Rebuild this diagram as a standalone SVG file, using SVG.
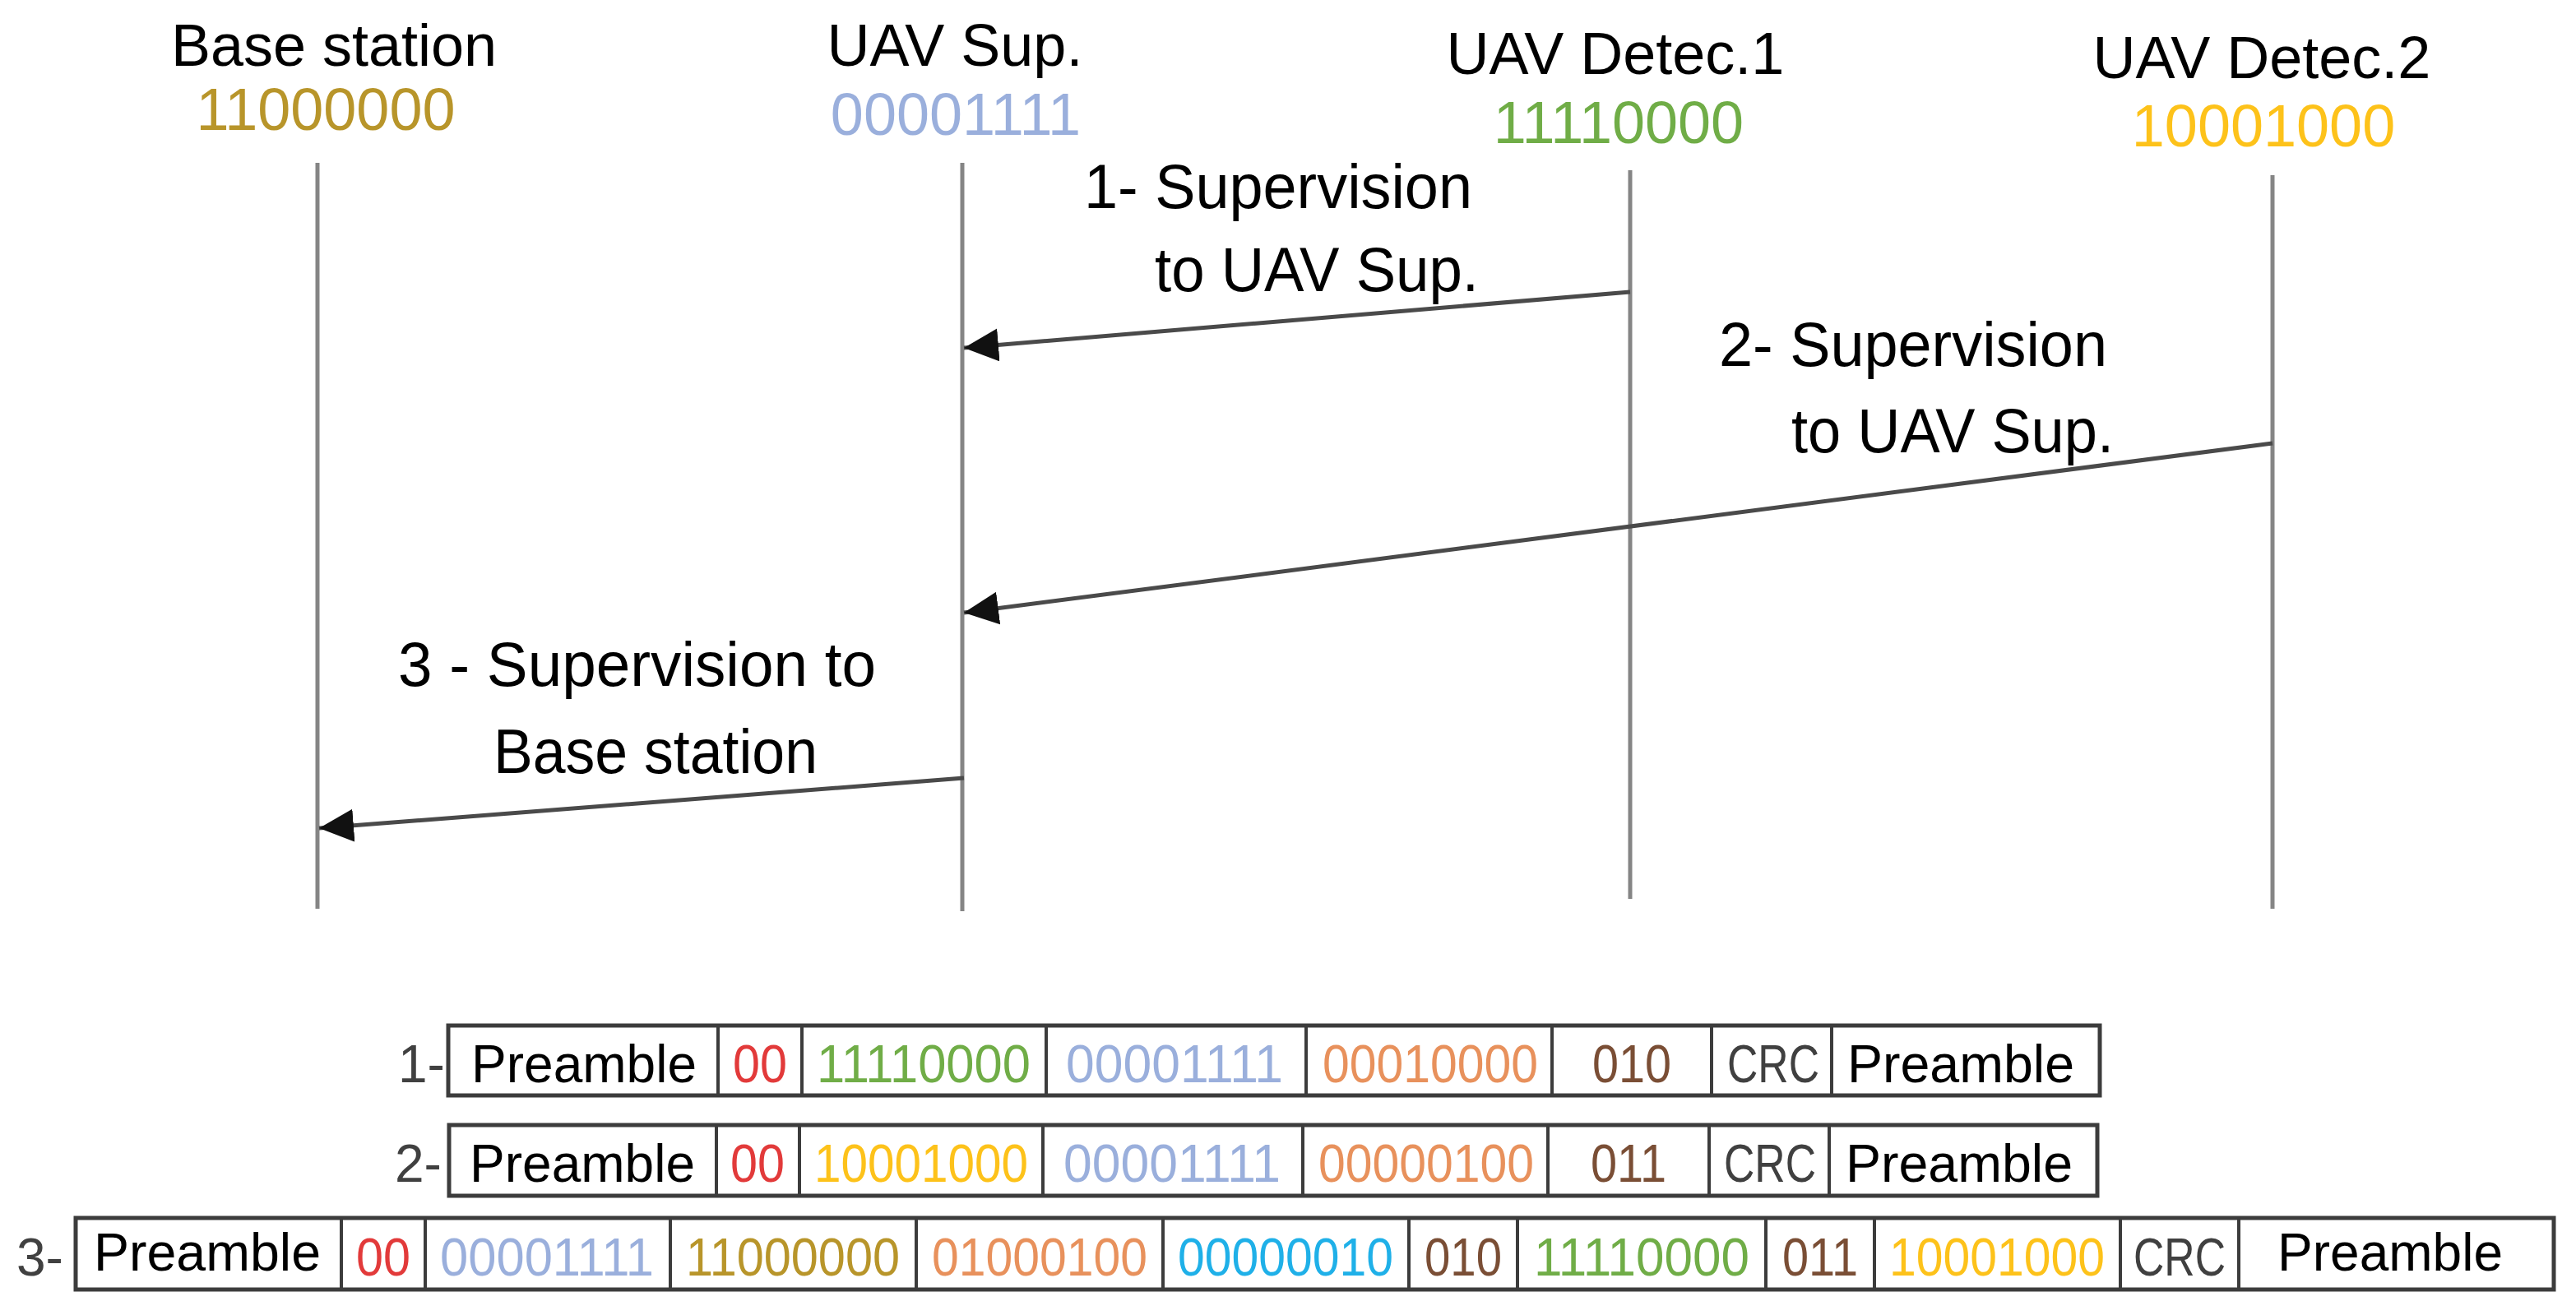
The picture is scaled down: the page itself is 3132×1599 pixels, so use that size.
<svg xmlns="http://www.w3.org/2000/svg" width="3132" height="1599" viewBox="0 0 3132 1599">
<style>
text{font-family:"Liberation Sans",Arial,sans-serif}
.title{font-size:72px;text-anchor:middle;fill:#000}
.lbl{font-size:76px;fill:#000}
.cell{font-size:64px;text-anchor:middle}
.rowlbl{font-size:64px;fill:#404040}
.life{stroke:#858585;stroke-width:5;fill:none}
.msg{stroke:#4a4a4a;stroke-width:5;fill:none;marker-end:url(#ah)}
.box{fill:#fff;stroke:#3c3c3c;stroke-width:5}
.div{stroke:#3c3c3c;stroke-width:4}
.blk{fill:#000}.red{fill:#e23a3a}.grn{fill:#70ad47}.lblu{fill:#9aafdc}.org{fill:#e8915c}.brn{fill:#7a4e35}.gry{fill:#404040}.gold{fill:#fdc21a}.dgold{fill:#b8952a}.cyan{fill:#1fb0e8}
</style>
<defs>
<marker id="ah" markerUnits="userSpaceOnUse" markerWidth="44" markerHeight="44" refX="42" refY="20" orient="auto">
<path d="M0,0 L42,20 L0,40 z" fill="#111"/>
</marker>
</defs>
<rect width="3132" height="1599" fill="#fff"/>

<g id="node-base">
<text class="title" x="406" y="80">Base station</text>
<text class="title dgold" x="396" y="158">11000000</text>
<line class="life" x1="386" y1="198" x2="386" y2="1105"/>
</g>
<g id="node-sup">
<text class="title" x="1161" y="80">UAV Sup.</text>
<text class="title lblu" x="1162" y="164">00001111</text>
<line class="life" x1="1170" y1="198" x2="1170" y2="1108"/>
</g>
<g id="node-det1">
<text class="title" x="1964" y="90">UAV Detec.1</text>
<text class="title grn" x="1968" y="174">11110000</text>
<line class="life" x1="1982" y1="207" x2="1982" y2="1093"/>
</g>
<g id="node-det2">
<text class="title" x="2750" y="95">UAV Detec.2</text>
<text class="title gold" x="2752" y="178">10001000</text>
<line class="life" x1="2763" y1="213" x2="2763" y2="1105"/>
</g>

<g id="connectors">
<line class="msg" x1="1982" y1="355" x2="1172" y2="423"/>
<line class="msg" x1="2763" y1="539" x2="1172" y2="745"/>
<line class="msg" x1="1172" y1="946" x2="388" y2="1007"/>
</g>

<g id="labels">
<text class="lbl" x="1318" y="253" textLength="472" lengthAdjust="spacingAndGlyphs">1- Supervision</text>
<text class="lbl" x="1404" y="354" textLength="394" lengthAdjust="spacingAndGlyphs">to UAV Sup.</text>
<text class="lbl" x="2090" y="445" textLength="472" lengthAdjust="spacingAndGlyphs">2- Supervision</text>
<text class="lbl" x="2178" y="550" textLength="392" lengthAdjust="spacingAndGlyphs">to UAV Sup.</text>
<text class="lbl" x="484" y="834" textLength="581" lengthAdjust="spacingAndGlyphs">3 - Supervision to</text>
<text class="lbl" x="600" y="940" textLength="394" lengthAdjust="spacingAndGlyphs">Base station</text>
</g>

<g id="packet-1">
<text class="rowlbl" x="484" y="1316">1-</text>
<rect class="box" x="545" y="1247" width="2008" height="85"/>
<line class="div" x1="873" y1="1247" x2="873" y2="1332"/>
<line class="div" x1="975" y1="1247" x2="975" y2="1332"/>
<line class="div" x1="1272" y1="1247" x2="1272" y2="1332"/>
<line class="div" x1="1588" y1="1247" x2="1588" y2="1332"/>
<line class="div" x1="1887" y1="1247" x2="1887" y2="1332"/>
<line class="div" x1="2081" y1="1247" x2="2081" y2="1332"/>
<line class="div" x1="2227" y1="1247" x2="2227" y2="1332"/>
<text class="cell blk" x="710" y="1316" textLength="274" lengthAdjust="spacingAndGlyphs">Preamble</text>
<text class="cell red" x="924" y="1316" textLength="66" lengthAdjust="spacingAndGlyphs">00</text>
<text class="cell grn" x="1123" y="1316" textLength="260" lengthAdjust="spacingAndGlyphs">11110000</text>
<text class="cell lblu" x="1428" y="1316" textLength="264" lengthAdjust="spacingAndGlyphs">00001111</text>
<text class="cell org" x="1739" y="1316" textLength="262" lengthAdjust="spacingAndGlyphs">00010000</text>
<text class="cell brn" x="1984" y="1316" textLength="96" lengthAdjust="spacingAndGlyphs">010</text>
<text class="cell gry" x="2156" y="1316" textLength="112" lengthAdjust="spacingAndGlyphs">CRC</text>
<text class="cell blk" x="2384" y="1316" textLength="276" lengthAdjust="spacingAndGlyphs">Preamble</text>
</g>

<g id="packet-2">
<text class="rowlbl" x="480" y="1437">2-</text>
<rect class="box" x="546" y="1368" width="2004" height="86"/>
<line class="div" x1="871" y1="1368" x2="871" y2="1454"/>
<line class="div" x1="972" y1="1368" x2="972" y2="1454"/>
<line class="div" x1="1268" y1="1368" x2="1268" y2="1454"/>
<line class="div" x1="1584" y1="1368" x2="1584" y2="1454"/>
<line class="div" x1="1882" y1="1368" x2="1882" y2="1454"/>
<line class="div" x1="2078" y1="1368" x2="2078" y2="1454"/>
<line class="div" x1="2224" y1="1368" x2="2224" y2="1454"/>
<text class="cell blk" x="708" y="1437" textLength="274" lengthAdjust="spacingAndGlyphs">Preamble</text>
<text class="cell red" x="921" y="1437" textLength="66" lengthAdjust="spacingAndGlyphs">00</text>
<text class="cell gold" x="1120" y="1437" textLength="260" lengthAdjust="spacingAndGlyphs">10001000</text>
<text class="cell lblu" x="1425" y="1437" textLength="264" lengthAdjust="spacingAndGlyphs">00001111</text>
<text class="cell org" x="1734" y="1437" textLength="262" lengthAdjust="spacingAndGlyphs">00000100</text>
<text class="cell brn" x="1980" y="1437" textLength="92" lengthAdjust="spacingAndGlyphs">011</text>
<text class="cell gry" x="2152" y="1437" textLength="112" lengthAdjust="spacingAndGlyphs">CRC</text>
<text class="cell blk" x="2382" y="1437" textLength="276" lengthAdjust="spacingAndGlyphs">Preamble</text>
</g>

<g id="packet-3">
<text class="rowlbl" x="20" y="1551">3-</text>
<rect class="box" x="92" y="1481" width="3013" height="87"/>
<line class="div" x1="415" y1="1481" x2="415" y2="1568"/>
<line class="div" x1="517" y1="1481" x2="517" y2="1568"/>
<line class="div" x1="815" y1="1481" x2="815" y2="1568"/>
<line class="div" x1="1114" y1="1481" x2="1114" y2="1568"/>
<line class="div" x1="1414" y1="1481" x2="1414" y2="1568"/>
<line class="div" x1="1713" y1="1481" x2="1713" y2="1568"/>
<line class="div" x1="1845" y1="1481" x2="1845" y2="1568"/>
<line class="div" x1="2147" y1="1481" x2="2147" y2="1568"/>
<line class="div" x1="2279" y1="1481" x2="2279" y2="1568"/>
<line class="div" x1="2578" y1="1481" x2="2578" y2="1568"/>
<line class="div" x1="2722" y1="1481" x2="2722" y2="1568"/>
<text class="cell blk" x="252" y="1545" textLength="276" lengthAdjust="spacingAndGlyphs">Preamble</text>
<text class="cell red" x="466" y="1551" textLength="66" lengthAdjust="spacingAndGlyphs">00</text>
<text class="cell lblu" x="665" y="1551" textLength="260" lengthAdjust="spacingAndGlyphs">00001111</text>
<text class="cell dgold" x="964" y="1551" textLength="260" lengthAdjust="spacingAndGlyphs">11000000</text>
<text class="cell org" x="1264" y="1551" textLength="262" lengthAdjust="spacingAndGlyphs">01000100</text>
<text class="cell cyan" x="1563" y="1551" textLength="262" lengthAdjust="spacingAndGlyphs">00000010</text>
<text class="cell brn" x="1779" y="1551" textLength="94" lengthAdjust="spacingAndGlyphs">010</text>
<text class="cell grn" x="1996" y="1551" textLength="262" lengthAdjust="spacingAndGlyphs">11110000</text>
<text class="cell brn" x="2213" y="1551" textLength="92" lengthAdjust="spacingAndGlyphs">011</text>
<text class="cell gold" x="2428" y="1551" textLength="262" lengthAdjust="spacingAndGlyphs">10001000</text>
<text class="cell gry" x="2650" y="1551" textLength="112" lengthAdjust="spacingAndGlyphs">CRC</text>
<text class="cell blk" x="2906" y="1545" textLength="274" lengthAdjust="spacingAndGlyphs">Preamble</text>
</g>
</svg>
